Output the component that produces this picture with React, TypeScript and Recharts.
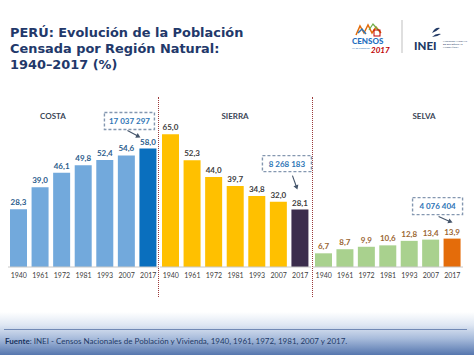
import React from 'react';
import { BarChart, Bar, XAxis, YAxis, Cell, LabelList } from 'recharts';

const years = ['1940', '1961', '1972', '1981', '1993', '2007', '2017'];
const costaValues = [28.3, 39.0, 46.1, 49.8, 52.4, 54.6, 58.0];
const sierraValues = [65.0, 52.3, 44.0, 39.7, 34.8, 32.0, 28.1];
const selvaValues = [6.7, 8.7, 9.9, 10.6, 12.8, 13.4, 13.9];
const regionNames = ['COSTA', 'SIERRA', 'SELVA'];
const population2017 = ['17 037 297', '8 268 183', '4 076 404'];
const titleLines = ['PERÚ: Evolución de la Población', 'Censada por Región Natural:', '1940–2017 (%)'];

const FONT = 'Lato, "Open Sans", sans-serif';
const TITLE_FONT = '"DejaVu Sans", sans-serif';

const fmt = (v: any) => Number(v).toFixed(1).replace('.', ',');

type Annot = {
  text: string;
  boxDx: number; boxDy: number; boxW: number; boxH: number;
  a1: [number, number]; a2: [number, number];
};

const makeAnnotation = (a: Annot) => (props: any) => {
  const { x, y, index } = props;
  if (index !== years.length - 1) return null;
  const bx = Number(x), by = Number(y);
  const x1 = bx + a.a1[0], y1 = by + a.a1[1];
  const x2 = bx + a.a2[0], y2 = by + a.a2[1];
  const ang = Math.atan2(y2 - y1, x2 - x1);
  const hl = 4.5, hw = 2.6;
  const p1 = [x2 - hl * Math.cos(ang) + hw * Math.sin(ang), y2 - hl * Math.sin(ang) - hw * Math.cos(ang)];
  const p2 = [x2 - hl * Math.cos(ang) - hw * Math.sin(ang), y2 - hl * Math.sin(ang) + hw * Math.cos(ang)];
  return (
    <g>
      <rect x={bx + a.boxDx} y={by + a.boxDy} width={a.boxW} height={a.boxH} fill="#ffffff" stroke="#8497b0" strokeWidth={1.4} strokeDasharray="3 2" />
      <text x={bx + a.boxDx + a.boxW / 2} y={by + a.boxDy + a.boxH / 2 + 3} textAnchor="middle" fontSize={8} fontWeight={700} fill="#2e75b6" fontFamily={FONT}>{a.text}</text>
      <line x1={x1} y1={y1} x2={x2 - 3 * Math.cos(ang)} y2={y2 - 3 * Math.sin(ang)} stroke="#44546a" strokeWidth={1.1} />
      <polygon points={`${x2},${y2} ${p1[0]},${p1[1]} ${p2[0]},${p2[1]}`} fill="#44546a" />
    </g>
  );
};

const annotations: Annot[] = [
  { text: population2017[0], boxDx: -35, boxDy: -36, boxW: 50, boxH: 17, a1: [-12, -18], a2: [1, -11] },
  { text: population2017[1], boxDx: -29, boxDy: -54, boxW: 49, boxH: 16, a1: [1, -34], a2: [6, -20] },
  { text: population2017[2], boxDx: -31, boxDy: -41, boxW: 50, boxH: 17, a1: [-5, -22], a2: [9, -16] },
];

function Panel(props: {
  values: number[]; color: string; lastColor: string; labelColor: string;
  left: number; width: number; marginRight: number; annot: Annot;
}) {
  const { values, color, lastColor, labelColor, left, width, marginRight, annot } = props;
  const data = years.map((y, i) => ({ year: y, value: values[i] }));
  return (
    <div style={{ position: 'absolute', left, top: 97 }}>
      <BarChart width={width} height={188} data={data} margin={{ top: 27, right: marginRight, left: 0, bottom: 0 }}>
        <XAxis dataKey="year" interval={0} tickLine={false} tickSize={4} axisLine={{ stroke: '#c8c8c8' }} height={18}
          tick={{ fontSize: 7, fill: '#404040', fontFamily: FONT }} />
        <YAxis hide domain={[0, 70]} />
        <Bar dataKey="value" barSize={17} isAnimationActive={false}>
          {data.map((d, i) => (
            <Cell key={d.year} fill={i === data.length - 1 ? lastColor : color} />
          ))}
          <LabelList dataKey="value" position="top" offset={4} formatter={fmt}
            style={{ fontSize: 8, fontWeight: 700, fill: labelColor, fontFamily: FONT }} />
          <LabelList dataKey="value" content={makeAnnotation(annot)} />
        </Bar>
      </BarChart>
    </div>
  );
}

export default function App() {
  return (
    <div style={{ position: 'absolute', left: 0, top: 0, width: 474, height: 355, background: '#ffffff', overflow: 'hidden', fontFamily: FONT }}>
      {titleLines.map((t, i) => (
        <div key={i} style={{ position: 'absolute', left: 10, top: 24.8 + i * 15.9, fontSize: 12.9, lineHeight: 'normal', fontFamily: TITLE_FONT, fontWeight: 700, color: '#22386a', whiteSpace: 'nowrap' }}>{t}</div>
      ))}
      {/* Logos */}
      <svg width={474} height={80} style={{ position: 'absolute', left: 0, top: 0 }}>
        <polyline points="356,35 360,26 364,33 368,25 372,33 376,27 381,33" fill="none" stroke="#e36c0a" strokeWidth={1.5} />
        <polyline points="358,33 362,29 366,34" fill="none" stroke="#2e75b6" strokeWidth={1.5} />
        <polyline points="369,30 373,24 379,31" fill="none" stroke="#70ad47" strokeWidth={1.2} />
        <rect x={374} y={30} width={6} height={6} fill="none" stroke="#c00000" strokeWidth={1} />
        <text x={352} y={44} fontSize={8} fontWeight={900} fill="#1f6fc0" fontFamily={FONT}>CENSOS</text>
        <text x={352} y={49} fontSize={2.5} fill="#2e75b6" fontFamily={FONT}>XII de Población</text>
        <text x={371} y={53} fontSize={8} fontWeight={700} fontStyle="italic" fill="#c00000" fontFamily={FONT}>2017</text>
        <line x1={402} y1={20} x2={402} y2={53} stroke="#bfbfbf" strokeWidth={1} />
        <path d="M432,33 q3,-6 8,-5 q-3,3 -8,5z" fill="#203864" />
        <path d="M432,37 q4,-4 9,-3 q-4,3 -9,3z" fill="#203864" />
        <text x={414} y={50} fontSize={11.5} fontWeight={900} fill="#203864" fontFamily={FONT}>INEI</text>
        <text x={443} y={42} fontSize={2.3} fill="#203864" fontFamily={FONT}>INSTITUTO NACIONAL</text>
        <text x={443} y={45} fontSize={2.3} fill="#203864" fontFamily={FONT}>DE ESTADÍSTICA E</text>
        <text x={443} y={48} fontSize={2.3} fill="#203864" fontFamily={FONT}>INFORMÁTICA</text>
      </svg>
      {/* Region titles */}
      <div style={{ position: 'absolute', left: 53, top: 111, transform: 'translateX(-50%)', fontSize: 8, fontWeight: 700, color: '#3a4656' }}>{regionNames[0]}</div>
      <div style={{ position: 'absolute', left: 235, top: 111, transform: 'translateX(-50%)', fontSize: 8, fontWeight: 700, color: '#3a4656' }}>{regionNames[1]}</div>
      <div style={{ position: 'absolute', left: 424, top: 111, transform: 'translateX(-50%)', fontSize: 8, fontWeight: 700, color: '#3a4656' }}>{regionNames[2]}</div>
      {/* Separators */}
      <div style={{ position: 'absolute', left: 158, top: 97, height: 200, borderLeft: '1.5px dotted #9b3b3b' }} />
      <div style={{ position: 'absolute', left: 311.5, top: 97, height: 200, borderLeft: '1.5px dotted #9b3b3b' }} />
      <Panel values={costaValues} color="#72a9dc" lastColor="#0a6fbe" labelColor="#2b5d8c" left={8} width={151} marginRight={0} annot={annotations[0]} />
      <Panel values={sierraValues} color="#ffc000" lastColor="#3b2d4d" labelColor="#404040" left={160} width={155} marginRight={4} annot={annotations[1]} />
      <Panel values={selvaValues} color="#a9d18e" lastColor="#e46c0a" labelColor="#9a6633" left={312.5} width={155} marginRight={5} annot={annotations[2]} />
      {/* Footer */}
      <div style={{ position: 'absolute', left: 0, top: 312, width: 474, height: 43, background: 'linear-gradient(to bottom, #ffffff 0%, #dfe7f3 30%, #a7bbdb 62%, #5576ae 100%)' }} />
      <div style={{ position: 'absolute', left: 4, top: 329, width: 463, height: 0, borderTop: '1px solid #7189b5' }} />
      <div style={{ position: 'absolute', left: 5, top: 335.5, fontSize: 8, whiteSpace: 'nowrap', color: '#1f3a66' }}>
        <span style={{ fontWeight: 700, color: '#17325e' }}>Fuente</span>: INEI - Censos Nacionales de Población y Vivienda, 1940, 1961, 1972, 1981, 2007 y 2017.
      </div>
    </div>
  );
}
